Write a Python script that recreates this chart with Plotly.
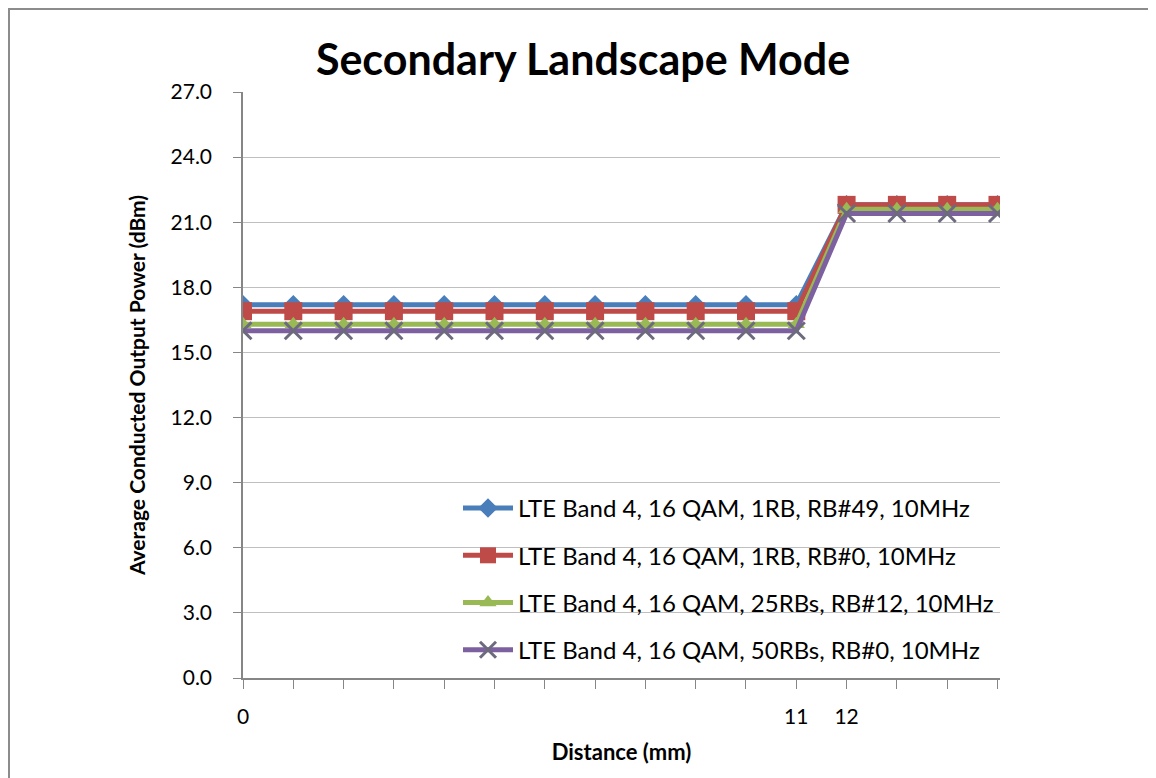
import plotly.graph_objects as go

x_index = list(range(16))
tick_vals = [0, 11, 12]
tick_text = ["0", "11", "12"]

names = [
    "LTE Band 4, 16 QAM, 1RB, RB#49, 10MHz",
    "LTE Band 4, 16 QAM, 1RB, RB#0, 10MHz",
    "LTE Band 4, 16 QAM, 25RBs, RB#12, 10MHz",
    "LTE Band 4, 16 QAM, 50RBs, RB#0, 10MHz",
]
blue_vals = [17.2] * 12 + [21.8] * 4
red_vals = [16.9] * 12 + [21.8] * 4
green_vals = [16.3] * 12 + [21.6] * 4
purple_vals = [16.0] * 12 + [21.4] * 4

series = [blue_vals, red_vals, green_vals, purple_vals]
colors = ["#4A7EBB", "#BE4B48", "#98B954", "#7D60A0"]
marker_colors = ["#4A7EBB", "#BE4B48", "#98B954", "#6E6A7E"]
symbols = ["diamond", "square", "triangle-up", "x-thin"]
msizes = [15, 18, 15, 17]

FONT = "Lato, Open Sans, sans-serif"

fig = go.Figure()
for i in range(4):
    mk = dict(symbol=symbols[i], size=msizes[i], color=marker_colors[i])
    if symbols[i] == "x-thin":
        mk["line"] = dict(width=3, color=marker_colors[i])
    fig.add_trace(go.Scatter(
        x=x_index, y=series[i], name=names[i], mode="lines+markers",
        line=dict(color=colors[i], width=5), marker=mk,
        legendgroup=f"g{i}",
    ))

# page has an 8px body offset; figure coordinates = page coordinates - 8
OFF = 8
FW, FH = 1156 - OFF, 778 - OFF
L, T = 243 - OFF, 92 - OFF
W, H = 757, 586


def px_x(p):
    return (p - OFF - L) / W


def px_y(p):
    return (T + H - (p - OFF)) / H


fig.add_shape(type="line", xref="paper", yref="paper",
              x0=px_x(8), x1=px_x(1170), y0=px_y(9), y1=px_y(9),
              line=dict(color="#8C8C8C", width=2))
fig.add_shape(type="line", xref="paper", yref="paper",
              x0=px_x(9), x1=px_x(9), y0=px_y(9), y1=px_y(800),
              line=dict(color="#8C8C8C", width=2))

fig.update_layout(
    width=FW, height=FH,
    margin=dict(l=L, r=FW - L - W, t=T, b=FH - T - H),
    paper_bgcolor="white", plot_bgcolor="white",
    font=dict(family=FONT, color="#000000"),
    title=dict(text="<b>Secondary Landscape Mode</b>", x=px_x(583), xanchor="center",
               xref="paper", y=1 - (60 - OFF) / FH, yanchor="middle",
               font=dict(size=43, family=FONT)),
    xaxis=dict(range=[0, 15.05], tickvals=x_index,
               ticktext=[tick_text[tick_vals.index(v)] if v in tick_vals else "" for v in x_index],
               showgrid=False, zeroline=False, showline=True, linecolor="#868686", linewidth=1.5,
               ticks="outside", ticklen=9, tickcolor="#868686", ticklabelstandoff=10,
               tickfont=dict(size=21),
               title=dict(text="<b>Distance (mm)</b>", font=dict(size=22), standoff=18)),
    yaxis=dict(range=[0, 27], dtick=3, tickformat=".1f", showgrid=True, gridcolor="#BFBFBF",
               gridwidth=1, zeroline=False, showline=True, linecolor="#868686", linewidth=1.5,
               ticks="outside", ticklen=8, tickcolor="#868686", ticklabelstandoff=17,
               tickfont=dict(size=21),
               title=dict(text="<b>Average Conducted Output Power (dBm)</b>", font=dict(size=21), standoff=19)),
    legend=dict(x=px_x(458), y=px_y(486), xanchor="left", yanchor="top",
                bgcolor="rgba(255,255,255,0)", font=dict(size=24, family=FONT),
                tracegroupgap=13, itemwidth=50),
    showlegend=True,
)

fig.write_html("out.html")
